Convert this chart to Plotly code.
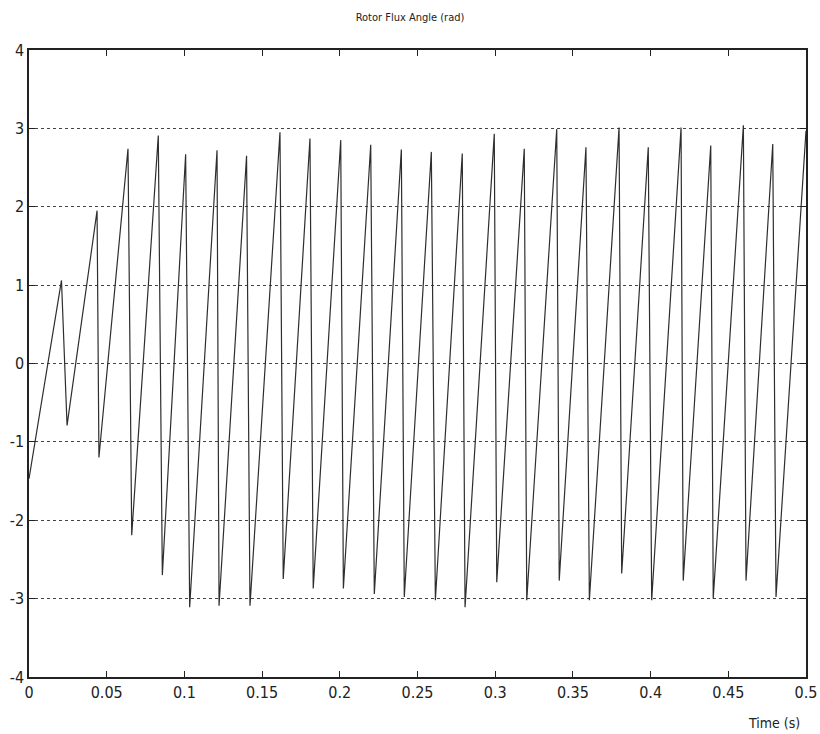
import plotly.graph_objects as go

# Vertices of the rotor flux angle waveform (time in s, angle in rad)
time_s = [0.0, 0.0209, 0.0245, 0.0438, 0.0450, 0.0637, 0.0661, 0.0832, 0.0858,
          0.1008, 0.1034, 0.1210, 0.1223, 0.1400, 0.1422, 0.1615, 0.1636,
          0.1808, 0.1829, 0.2006, 0.2023, 0.2199, 0.2222, 0.2396, 0.2415,
          0.2589, 0.2615, 0.2788, 0.2806, 0.2994, 0.3010, 0.3187, 0.3203,
          0.3396, 0.3412, 0.3584, 0.3606, 0.3797, 0.3814, 0.3985, 0.4007,
          0.4196, 0.4210, 0.4387, 0.4403, 0.4597, 0.4614, 0.4786, 0.4807, 0.5]
angle_rad = [-1.47, 1.06, -0.79, 1.95, -1.20, 2.74, -2.19, 2.91, -2.70,
             2.67, -3.11, 2.72, -3.09, 2.65, -3.09, 2.95, -2.75,
             2.87, -2.87, 2.85, -2.87, 2.79, -2.94, 2.73, -2.98,
             2.70, -3.02, 2.68, -3.11, 2.93, -2.79, 2.74, -3.02,
             2.99, -2.77, 2.76, -3.02, 3.01, -2.68, 2.76, -3.02,
             3.01, -2.77, 2.78, -3.00, 3.04, -2.77, 2.80, -2.98, 2.97]

x_tickvals = [0, 0.05, 0.1, 0.15, 0.2, 0.25, 0.3, 0.35, 0.4, 0.45, 0.5]
x_ticktext = ["0", "0.05", "0.1", "0.15", "0.2", "0.25", "0.3", "0.35", "0.4", "0.45", "0.5"]
y_tickvals = [-4, -3, -2, -1, 0, 1, 2, 3, 4]
y_ticktext = ["-4", "-3", "-2", "-1", "0", "1", "2", "3", "4"]

FONT = "Liberation Sans Narrow, DejaVu Sans Condensed, Liberation Sans, sans-serif"

fig = go.Figure()
fig.add_trace(go.Scatter(x=time_s, y=angle_rad, mode="lines",
                         line=dict(color="#2e2e2e", width=1.2),
                         showlegend=False, hoverinfo="skip"))

fig.update_layout(
    width=820, height=734,
    paper_bgcolor="white", plot_bgcolor="white",
    margin=dict(l=29, r=14, t=50, b=57, autoexpand=False),
    font=dict(family=FONT, color="#222", size=16),
    title=dict(text="Rotor Flux Angle (rad)", x=0.5, xanchor="center",
               y=0.977, yanchor="middle",
               font=dict(family=FONT, size=11, color="#222")),
    showlegend=False,
)
fig.update_xaxes(
    range=[0, 0.5], tickvals=x_tickvals, ticktext=x_ticktext,
    showgrid=False, zeroline=False, automargin=False,
    showline=True, linecolor="#222", linewidth=1.5, mirror="allticks",
    ticks="inside", ticklen=6, tickcolor="#222", tickwidth=1,
    tickfont=dict(family=FONT, size=16, color="#222"),
)
fig.update_yaxes(
    range=[-4, 4], tickvals=y_tickvals, ticktext=y_ticktext,
    showgrid=True, gridcolor="#444", gridwidth=1, griddash="dot",
    zeroline=False, automargin=False,
    showline=True, linecolor="#222", linewidth=1.5, mirror="allticks",
    ticks="inside", ticklen=6, tickcolor="#222", tickwidth=1,
    tickfont=dict(family=FONT, size=16, color="#222"),
)
fig.add_annotation(text="Time (s)", xref="paper", yref="paper",
                   x=0.995, y=-0.058, xanchor="right", yanchor="top",
                   showarrow=False,
                   font=dict(family=FONT, size=14, color="#222"))

fig.write_html("out.html")
